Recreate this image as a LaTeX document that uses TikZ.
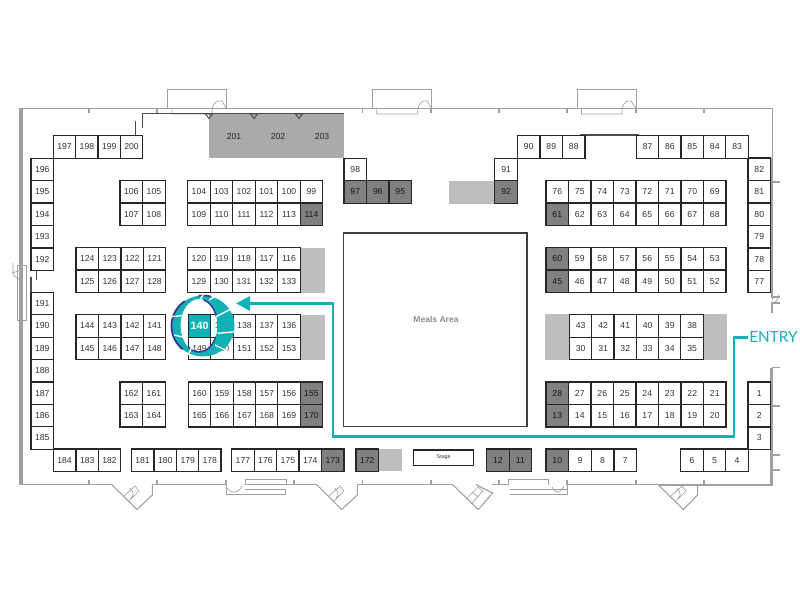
\documentclass[tikz,border=0pt]{standalone}
\usepackage{fontspec}
\setmainfont{Liberation Sans}
\newfontfamily\entryfont{Lato}
\usetikzlibrary{arrows.meta}
\definecolor{routeteal}{RGB}{16,178,184}
\definecolor{ringedge}{RGB}{61,58,148}
\definecolor{boothdark}{RGB}{128,128,128}
\definecolor{boothlight}{RGB}{190,190,190}
\definecolor{hallgrey}{RGB}{170,170,170}
\definecolor{wallgrey}{RGB}{160,160,160}
\tikzset{
  booth/.style={draw=black!85,line width=0.9pt,fill=white,text=black!80,minimum width=16.9pt,minimum height=16.9pt,inner sep=0pt,outer sep=0pt,anchor=north west,font=\fontsize{6.5}{7}\selectfont},
  boothd/.style={booth,fill=boothdark,text=black!90},
  boothsel/.style={booth,fill=routeteal,text=white,font=\fontsize{8}{9}\selectfont\bfseries},
  blank/.style={fill=boothlight},
  wall/.style={draw=wallgrey,line width=0.9pt},
  wallthin/.style={draw=wallgrey,line width=0.5pt},
  partition/.style={draw=black!70,line width=1pt},
}
\begin{document}
\begin{tikzpicture}[x=0.75pt,y=0.75pt,yscale=-1,xscale=1]
\useasboundingbox (0,0) rectangle (800,600);

% Walls
\draw [wall] (20,485) -- (20,108.3) -- (772.7,108.3) -- (772.7,300);
\draw [wall] (772.7,367.7) -- (772.7,485) -- (659,485);
\draw [wall] (22,485) -- (22,108.3);
\draw [wall,line width=2pt] (771,158) -- (771,292);
\draw [wall,line width=1.5pt] (771,368) -- (771,485);
\draw [wall] (772,367.7) -- (780,367.7) (772,406) -- (780,406) (772,455) -- (780,455) (772,470) -- (780,470);
\draw [wall] (772,182) -- (780,182);
\draw [wall] (20,484.7) -- (111.7,484.7) (152.3,484.7) -- (226,484.7) (287,484.7) -- (316.7,484.7) (357.3,484.7) -- (452.7,484.7) (492,484.7) -- (508,484.7) (568,484.7) -- (658.3,484.7);

% Wall ticks
\draw [wallthin,line width=0.8pt] (89,108) -- (89,113) (157,108) -- (157,113) (362.5,108) -- (362.5,113) (431,108) -- (431,113) (499,108) -- (499,113) (567,108) -- (567,113) (636,108) -- (636,113) (704,108) -- (704,113);
\draw [wallthin,line width=0.8pt] (89,480) -- (89,485) (157,480) -- (157,485) (226,480) -- (226,485) (294,480) -- (294,485) (362.5,480) -- (362.5,485) (431,480) -- (431,485) (499,480) -- (499,485) (567,480) -- (567,485) (636,480) -- (636,485) (704,480) -- (704,485);

% Top doors
\draw [wallthin] (167.3,108.3) -- (167.3,89.3) -- (226,89.3) -- (226,108.3);
\draw [wallthin] (172,108.3) -- (172,114) -- (212,114) -- (212,108.3) .. controls (214,102) and (218,100) .. (222,101) -- (226,108.3);
\draw [wallthin] (372.3,108.3) -- (372.3,89.3) -- (431.7,89.3) -- (431.7,108.3);
\draw [wallthin] (376.7,108.3) -- (376.7,114) -- (417.7,114) -- (417.7,108.3) .. controls (420,102) and (423,100) .. (427,101) -- (431.7,108.3);
\draw [wallthin] (577.3,108.3) -- (577.3,89.3) -- (636,89.3) -- (636,108.3);
\draw [wallthin] (581.5,108.3) -- (581.5,114) -- (622,114) -- (622,108.3) .. controls (624,102) and (627,100) .. (631,101) -- (636,108.3);

% Left door
\draw [wallthin] (17,320) -- (17,265) -- (26,265) -- (26,320) -- cycle;
\draw [wallthin] (20,265) -- (20,320);
\draw [wallthin] (12,273) -- (22,270) (13,263) -- (13,275) -- (20,280);

% Right door
\draw [wallthin,line width=0.8pt] (772,292) -- (772,297) -- (780,297) (780,303) -- (772,303) -- (772,313);
\draw [wallthin] (772,303) .. controls (778,302) and (778,298) .. (779,294);
\draw [wallthin,line width=0.8pt] (772,306) -- (772,313);

% Bottom bays
\draw [wallthin,line width=0.8pt] (111.7,484.7) -- (137,509.5) -- (152.3,495) -- (152.3,484.7);
\draw [wallthin] (123,497) -- (135,486) -- (139,491) -- (128,502) (130,488) .. controls (133,492) and (135,495) .. (131,498);
\draw [wallthin,line width=0.8pt] (316.7,484.7) -- (341.7,509.5) -- (357.3,495) -- (357.3,484.7);
\draw [wallthin] (328,497) -- (340,486) -- (344,491) -- (333,502) (335,488) .. controls (338,492) and (340,495) .. (336,498);
\draw [wallthin,line width=0.8pt] (452.7,484.7) -- (478.3,509.5) -- (492.7,493) -- (476,484.7);
\draw [wallthin] (466,499) -- (478,487) -- (483,491) -- (471,504) (472,492) -- (478,497);
\draw [wallthin,line width=0.8pt] (658.3,484.7) -- (683.3,509.5) -- (697.7,495) -- (697.7,484.7);
\draw [wallthin] (670,497) -- (682,486) -- (686,491) -- (675,502) (677,488) .. controls (680,492) and (682,495) .. (678,498);

% Bottom doors
\draw [wallthin] (226,495) -- (226,485) (226,494.5) -- (285,494.5) -- (285,489) -- (245,489) (245,479.3) -- (286.7,479.3) -- (286.7,484.7) -- (245,484.7) -- cycle;
\draw [wallthin] (226,487) .. controls (232,494) and (238,494) .. (242,486);
\draw [wallthin] (508.3,484.7) -- (508.3,479.3) -- (548,479.3) -- (548,484.7) (510,489) -- (567.7,489) (510,494.5) -- (567.7,494.5) -- (567.7,484.7);
\draw [wallthin] (552,487) .. controls (556,494) and (560,494) .. (564,486);

% Partitions
\draw [partition] (142.7,127.7) -- (142.7,113.3) -- (343.7,113.3);
\draw [partition] (135.7,121.3) -- (135.7,135.7);
\draw [partition] (580,135) -- (639,135);
\draw [partition,line width=0.8pt] (36.5,270) -- (36.5,280);
\draw [partition,line width=0.8pt] (31,277) -- (31,292.7);

% Shaded areas
\fill [hallgrey] (208.7,114) rectangle (343.7,158);
\fill [blank] (300,247.7) rectangle (325,292.7);
\fill [blank] (300,314.7) rectangle (325,360);
\fill [blank] (448.7,180.7) rectangle (494.3,204);
\fill [blank] (378,449) rectangle (402,471.3);
\fill [blank] (545,314.3) rectangle (569.3,360);
\fill [blank] (703,314.3) rectangle (727,360);

% Ceiling marks
\draw [partition,line width=0.7pt] (250.5,114) -- (257.5,114) -- (254,118.5) -- cycle;
\draw [partition,line width=0.7pt] (295.5,114) -- (302.5,114) -- (299,118.5) -- cycle;
\draw [partition,line width=0.7pt] (205.5,114) -- (212.5,114) -- (209,118.5) -- cycle;

% Hall labels
\draw (234,137) node [font=\fontsize{6.5}{7}\selectfont,text=black!85] (h201) {201};
\draw (278,137) node [font=\fontsize{6.5}{7}\selectfont,text=black!85] (h202) {202};
\draw (322,137) node [font=\fontsize{6.5}{7}\selectfont,text=black!85] (h203) {203};

% Meals
\draw [draw=black!75,line width=0.8pt] (343.3,233) rectangle (527,426.3);
\draw (436,319) node [font=\fontsize{6.4}{7}\selectfont\bfseries,text=black!45] (meals) {Meals Area};

% Stage
\draw (413.7,450) node [booth,minimum width=45pt,minimum height=11.5pt,font=\fontsize{4}{5}\selectfont] (stage) {Stage};

% Top left row
\draw (53.3,135.7) node [booth] (b197) {197};
\draw (75.7,135.7) node [booth] (b198) {198};
\draw (98,135.7) node [booth] (b199) {199};
\draw (120.3,135.7) node [booth] (b200) {200};

% Left column
\draw (31,158.3) node [booth] (b196) {196};
\draw (31,180.7) node [booth] (b195) {195};
\draw (31,203) node [booth] (b194) {194};
\draw (31,225.5) node [booth] (b193) {193};
\draw (31,248) node [booth] (b192) {192};
\draw (31,292.7) node [booth] (b191) {191};
\draw (31,314.7) node [booth] (b190) {190};
\draw (31,337.3) node [booth] (b189) {189};
\draw (31,359.5) node [booth] (b188) {188};
\draw (31,382) node [booth] (b187) {187};
\draw (31,404.3) node [booth] (b186) {186};
\draw (31,426.7) node [booth] (b185) {185};

% Block 106
\draw (120,180.7) node [booth] (b106) {106};
\draw (142.7,180.7) node [booth] (b105) {105};
\draw (120,203) node [booth] (b107) {107};
\draw (142.7,203) node [booth] (b108) {108};

% Block 104
\draw (187.7,180.7) node [booth] (b104) {104};
\draw (210.2,180.7) node [booth] (b103) {103};
\draw (232.7,180.7) node [booth] (b102) {102};
\draw (255.2,180.7) node [booth] (b101) {101};
\draw (277.7,180.7) node [booth] (b100) {100};
\draw (300.2,180.7) node [booth] (b99) {99};
\draw (187.7,203) node [booth] (b109) {109};
\draw (210.2,203) node [booth] (b110) {110};
\draw (232.7,203) node [booth] (b111) {111};
\draw (255.2,203) node [booth] (b112) {112};
\draw (277.7,203) node [booth] (b113) {113};
\draw (300.2,203) node [boothd] (b114) {114};

% Block 124
\draw (76,247.7) node [booth] (b124) {124};
\draw (98.5,247.7) node [booth] (b123) {123};
\draw (121,247.7) node [booth] (b122) {122};
\draw (143.3,247.7) node [booth] (b121) {121};
\draw (76,270) node [booth] (b125) {125};
\draw (98.5,270) node [booth] (b126) {126};
\draw (121,270) node [booth] (b127) {127};
\draw (143.3,270) node [booth] (b128) {128};

% Block 120
\draw (187.7,247.7) node [booth] (b120) {120};
\draw (210.2,247.7) node [booth] (b119) {119};
\draw (232.7,247.7) node [booth] (b118) {118};
\draw (255.2,247.7) node [booth] (b117) {117};
\draw (277.7,247.7) node [booth] (b116) {116};
\draw (187.7,270) node [booth] (b129) {129};
\draw (210.2,270) node [booth] (b130) {130};
\draw (232.7,270) node [booth] (b131) {131};
\draw (255.2,270) node [booth] (b132) {132};
\draw (277.7,270) node [booth] (b133) {133};

% Block 144
\draw (76,314.7) node [booth] (b144) {144};
\draw (98.5,314.7) node [booth] (b143) {143};
\draw (121,314.7) node [booth] (b142) {142};
\draw (143.3,314.7) node [booth] (b141) {141};
\draw (76,337.3) node [booth] (b145) {145};
\draw (98.5,337.3) node [booth] (b146) {146};
\draw (121,337.3) node [booth] (b147) {147};
\draw (143.3,337.3) node [booth] (b148) {148};

% Block 140
\draw (188.3,314.7) node [boothsel] (b140) {140};
\draw (210.8,314.7) node [booth] (b139) {139};
\draw (233.2,314.7) node [booth] (b138) {138};
\draw (255.5,314.7) node [booth] (b137) {137};
\draw (277.8,314.7) node [booth] (b136) {136};
\draw (188.3,337.3) node [booth] (b149) {149};
\draw (210.8,337.3) node [booth] (b150) {150};
\draw (233.2,337.3) node [booth] (b151) {151};
\draw (255.5,337.3) node [booth] (b152) {152};
\draw (277.8,337.3) node [booth] (b153) {153};

% Block 162
\draw (120,382) node [booth] (b162) {162};
\draw (142.7,382) node [booth] (b161) {161};
\draw (120,404.5) node [booth] (b163) {163};
\draw (142.7,404.5) node [booth] (b164) {164};

% Block 160
\draw (188.3,382) node [booth] (b160) {160};
\draw (210.8,382) node [booth] (b159) {159};
\draw (233.2,382) node [booth] (b158) {158};
\draw (255.5,382) node [booth] (b157) {157};
\draw (277.8,382) node [booth] (b156) {156};
\draw (300.2,382) node [boothd] (b155) {155};
\draw (188.3,404.5) node [booth] (b165) {165};
\draw (210.8,404.5) node [booth] (b166) {166};
\draw (233.2,404.5) node [booth] (b167) {167};
\draw (255.5,404.5) node [booth] (b168) {168};
\draw (277.8,404.5) node [booth] (b169) {169};
\draw (300.2,404.5) node [boothd] (b170) {170};

% Bottom row
\draw (53.3,449) node [booth] (b184) {184};
\draw (76,449) node [booth] (b183) {183};
\draw (98.3,449) node [booth] (b182) {182};
\draw (131.3,449) node [booth] (b181) {181};
\draw (154,449) node [booth] (b180) {180};
\draw (176.5,449) node [booth] (b179) {179};
\draw (198.5,449) node [booth] (b178) {178};
\draw (231.7,449) node [booth] (b177) {177};
\draw (254.2,449) node [booth] (b176) {176};
\draw (276.7,449) node [booth] (b175) {175};
\draw (299,449) node [booth] (b174) {174};
\draw (321.5,449) node [boothd] (b173) {173};
\draw (356,449) node [boothd] (b172) {172};
\draw (486.7,449) node [boothd] (b12) {12};
\draw (509.2,449) node [boothd] (b11) {11};
\draw (546,449) node [boothd] (b10) {10};
\draw (568.7,449) node [booth] (b9) {9};
\draw (591.2,449) node [booth] (b8) {8};
\draw (614,449) node [booth] (b7) {7};
\draw (680.7,449) node [booth] (b6) {6};
\draw (703.3,449) node [booth] (b5) {5};
\draw (725.8,449) node [booth] (b4) {4};

% Right column, low
\draw (748,426.7) node [booth] (b3) {3};
\draw (748,404.5) node [booth] (b2) {2};
\draw (748,382) node [booth] (b1) {1};

% Right column, high
\draw (748,157.9) node [booth] (b82) {82};
\draw (748,180.7) node [booth] (b81) {81};
\draw (748,203) node [booth] (b80) {80};
\draw (748,225.5) node [booth] (b79) {79};
\draw (748,248) node [booth] (b78) {78};
\draw (748,270.3) node [booth] (b77) {77};

% Top right row
\draw (636.3,135.7) node [booth] (b87) {87};
\draw (658.7,135.7) node [booth] (b86) {86};
\draw (681,135.7) node [booth] (b85) {85};
\draw (703.5,135.7) node [booth] (b84) {84};
\draw (725.8,135.7) node [booth] (b83) {83};
\draw (517.5,135.7) node [booth] (b90) {90};
\draw (540,135.7) node [booth] (b89) {89};
\draw (562.5,135.7) node [booth] (b88) {88};
\draw (494.8,158.3) node [booth] (b91) {91};
\draw (494.8,180.7) node [boothd] (b92) {92};

% Top middle
\draw (344,158.3) node [booth] (b98) {98};
\draw (344,180.7) node [boothd] (b97) {97};
\draw (366.7,180.7) node [boothd] (b96) {96};
\draw (389,180.7) node [boothd] (b95) {95};

% Block 76
\draw (546,180.7) node [booth] (b76) {76};
\draw (568.5,180.7) node [booth] (b75) {75};
\draw (591,180.7) node [booth] (b74) {74};
\draw (613.5,180.7) node [booth] (b73) {73};
\draw (636,180.7) node [booth] (b72) {72};
\draw (658.5,180.7) node [booth] (b71) {71};
\draw (681,180.7) node [booth] (b70) {70};
\draw (703.5,180.7) node [booth] (b69) {69};
\draw (546,203) node [boothd] (b61) {61};
\draw (568.5,203) node [booth] (b62) {62};
\draw (591,203) node [booth] (b63) {63};
\draw (613.5,203) node [booth] (b64) {64};
\draw (636,203) node [booth] (b65) {65};
\draw (658.5,203) node [booth] (b66) {66};
\draw (681,203) node [booth] (b67) {67};
\draw (703.5,203) node [booth] (b68) {68};

% Block 60
\draw (546,247.7) node [boothd] (b60) {60};
\draw (568.5,247.7) node [booth] (b59) {59};
\draw (591,247.7) node [booth] (b58) {58};
\draw (613.5,247.7) node [booth] (b57) {57};
\draw (636,247.7) node [booth] (b56) {56};
\draw (658.5,247.7) node [booth] (b55) {55};
\draw (681,247.7) node [booth] (b54) {54};
\draw (703.5,247.7) node [booth] (b53) {53};
\draw (546,270) node [boothd] (b45) {45};
\draw (568.5,270) node [booth] (b46) {46};
\draw (591,270) node [booth] (b47) {47};
\draw (613.5,270) node [booth] (b48) {48};
\draw (636,270) node [booth] (b49) {49};
\draw (658.5,270) node [booth] (b50) {50};
\draw (681,270) node [booth] (b51) {51};
\draw (703.5,270) node [booth] (b52) {52};

% Block 43
\draw (569.3,314.7) node [booth] (b43) {43};
\draw (591.8,314.7) node [booth] (b42) {42};
\draw (614,314.7) node [booth] (b41) {41};
\draw (636.3,314.7) node [booth] (b40) {40};
\draw (658.5,314.7) node [booth] (b39) {39};
\draw (680.8,314.7) node [booth] (b38) {38};
\draw (569.3,337.3) node [booth] (b30) {30};
\draw (591.8,337.3) node [booth] (b31) {31};
\draw (614,337.3) node [booth] (b32) {32};
\draw (636.3,337.3) node [booth] (b33) {33};
\draw (658.5,337.3) node [booth] (b34) {34};
\draw (680.8,337.3) node [booth] (b35) {35};

% Block 28
\draw (546,382) node [boothd] (b28) {28};
\draw (568.5,382) node [booth] (b27) {27};
\draw (591,382) node [booth] (b26) {26};
\draw (613.5,382) node [booth] (b25) {25};
\draw (636,382) node [booth] (b24) {24};
\draw (658.5,382) node [booth] (b23) {23};
\draw (681,382) node [booth] (b22) {22};
\draw (703.5,382) node [booth] (b21) {21};
\draw (546,404.5) node [boothd] (b13) {13};
\draw (568.5,404.5) node [booth] (b14) {14};
\draw (591,404.5) node [booth] (b15) {15};
\draw (613.5,404.5) node [booth] (b16) {16};
\draw (636,404.5) node [booth] (b17) {17};
\draw (658.5,404.5) node [booth] (b18) {18};
\draw (681,404.5) node [booth] (b19) {19};
\draw (703.5,404.5) node [booth] (b20) {20};

% Ring
\fill [routeteal,even odd rule] (203,326) ellipse [x radius=31.5,y radius=30.5] (199,325.5) ellipse [x radius=18.5,y radius=26.5];
\draw [ringedge,line width=1.4pt] (203,326) ++(130:31.5 and 30.5) arc [start angle=130,end angle=235,x radius=31.5,y radius=30.5];
\draw [ringedge,line width=1.1pt] (199,325.5) ++(25:18.5 and 26.5) arc [start angle=25,end angle=125,x radius=18.5,y radius=26.5];
\draw [ringedge,line width=1.1pt] (199,325.5) ++(-75:18.5 and 26.5) arc [start angle=-75,end angle=-20,x radius=18.5,y radius=26.5];
\draw [ringedge,line width=1.2pt] (203,326) ++(262:31.5 and 30.5) arc [start angle=262,end angle=285,x radius=31.5,y radius=30.5];
\draw [white,line width=1pt] (170,316.7) -- (181.7,315.7) (174,335) -- (184,337.3) (188,355) -- (192.7,345.3) (215,345) -- (231,353) (217.4,333.3) -- (236,331.7) (216,316.7) -- (233,308) (199.3,300.7) -- (203.3,294.5) (209.3,300) -- (217,295);

% Route
\draw (748,337.5) node [anchor=west,inner sep=0.75pt,text=routeteal,font=\fontsize{11.5}{14}\entryfont] (entry) {ENTRY};
\coordinate (routeend) at (236,303.5);
\draw [routeteal,line width=2.2pt,-{Triangle[length=10.5pt,width=10.5pt]}] (entry.west) -- (734,337.5) -- (734,436.5) -- (333,436.5) -- (333,303.5) -- (routeend);

\end{tikzpicture}
\end{document}
